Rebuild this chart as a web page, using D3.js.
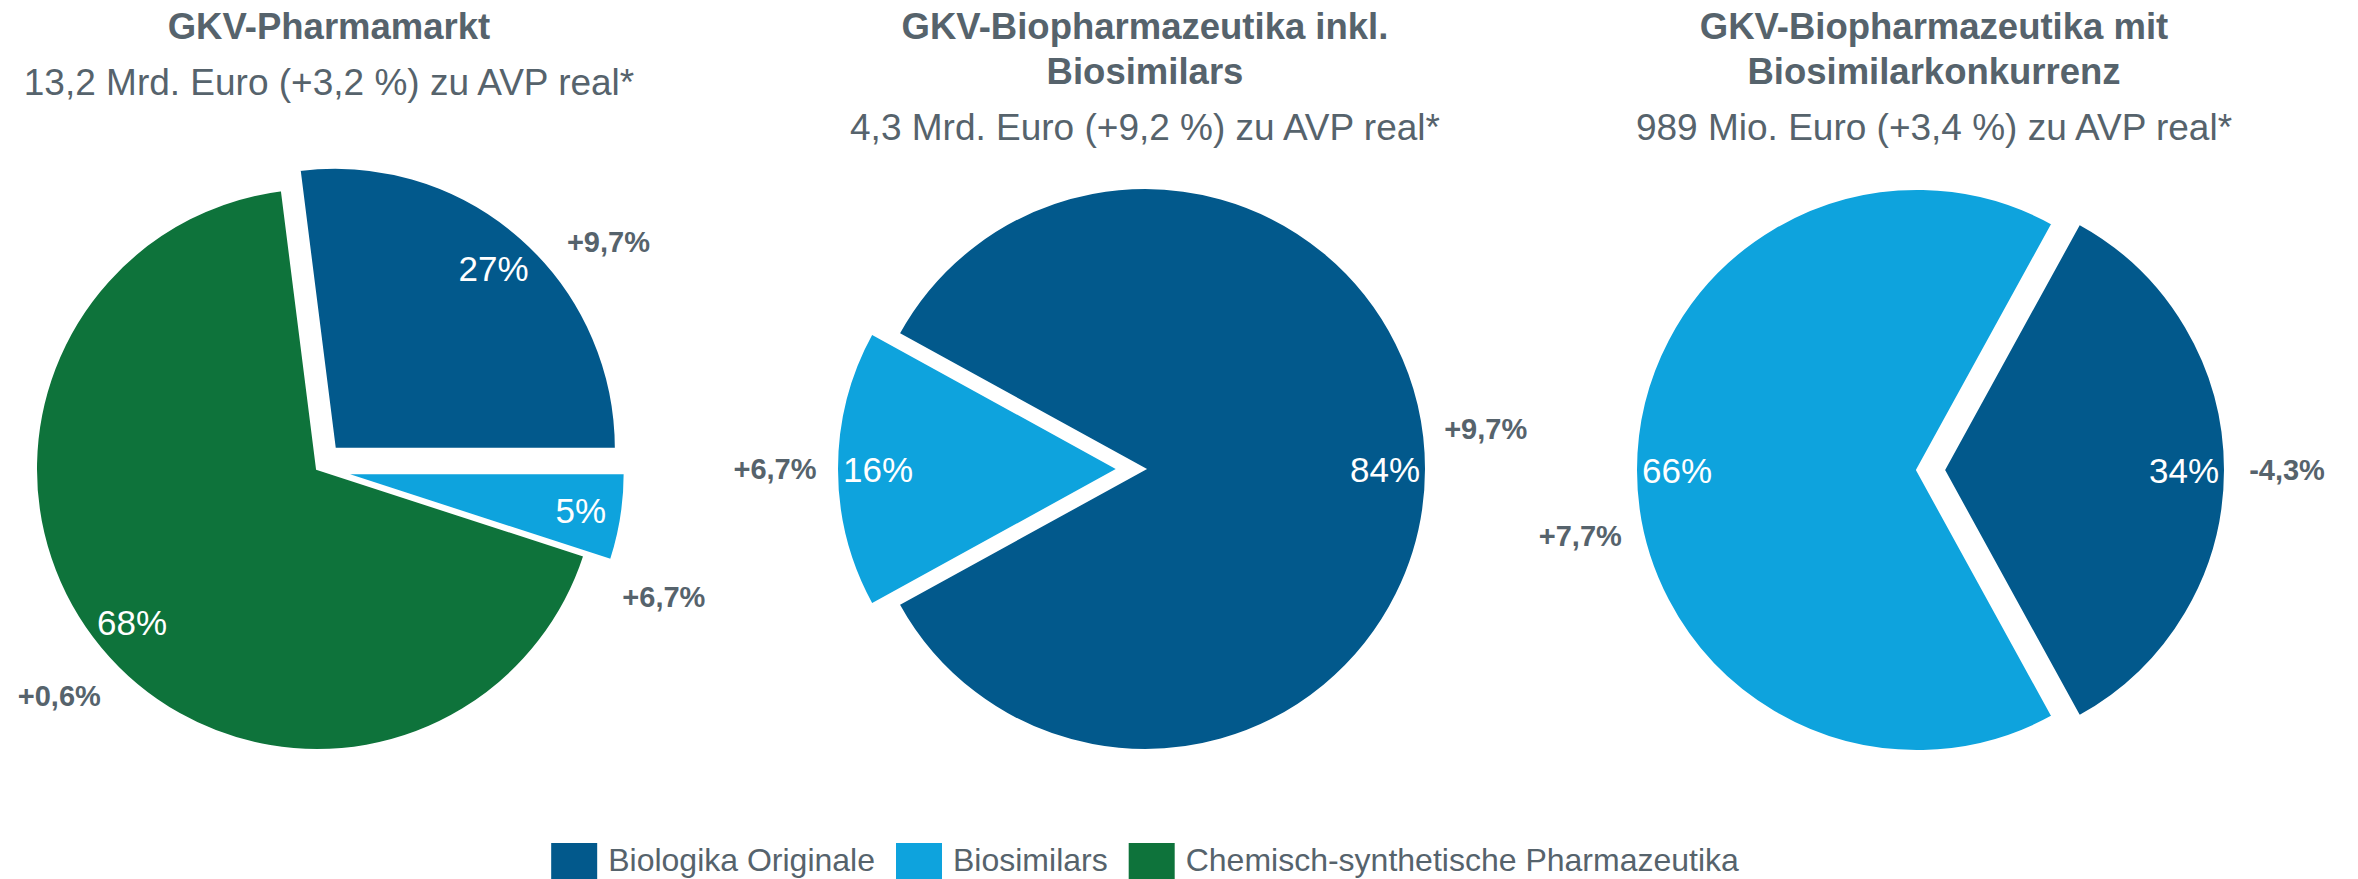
<!DOCTYPE html>
<html>
<head>
<meta charset="utf-8">
<script src="https://cdn.jsdelivr.net/npm/d3@7"></script>
<style>
  html, body { margin: 0; padding: 0; background: #fff; }
  svg { display: block; font-family: "Liberation Sans", Arial, sans-serif; }
</style>
</head>
<body>
<div class="canvas"></div>
<script>
// categories and colours
const categories = ['Biologika Originale', 'Biosimilars', 'Chemisch-synthetische Pharmazeutika'];
const colors = ['#02598c', '#0ea3dd', '#0e733b'];

// chart 1: GKV-Pharmamarkt
const pharmaCats = [0, 1, 2];
const pharmaShares = [27, 5, 68];
const pharmaGrowth = ['+9,7%', '+6,7%', '+0,6%'];

// chart 2: Biopharmazeutika inkl. Biosimilars
const bioInklCats = [0, 1];
const bioInklShares = [84, 16];
const bioInklGrowth = ['+9,7%', '+6,7%'];

// chart 3: Biopharmazeutika mit Biosimilarkonkurrenz
const bioMitCats = [0, 1];
const bioMitShares = [34, 66];
const bioMitGrowth = ['-4,3%', '+7,7%'];

const titles = [
    ['GKV-Pharmamarkt'],
    ['GKV-Biopharmazeutika inkl.', 'Biosimilars'],
    ['GKV-Biopharmazeutika mit', 'Biosimilarkonkurrenz']
];
const subtitles = [
    '13,2 Mrd. Euro (+3,2 %) zu AVP real*',
    '4,3 Mrd. Euro (+9,2 %) zu AVP real*',
    '989 Mio. Euro (+3,4 %) zu AVP real*'
];

const dims = { width: 2358, height: 879, radius: 281 };
const textColor = '#56636c';

// layout per chart
const charts = [
    { cats: pharmaCats, shares: pharmaShares, growth: pharmaGrowth, cx: 317, cy: 469, textX: 329,
      start: -7.2, explode: [true, true, false], nudge: [11.5, 12, -1.7] },
    { cats: bioInklCats, shares: bioInklShares, growth: bioInklGrowth, cx: 1145, cy: 469, textX: 1145,
      start: -61.2, explode: [false, true], nudge: [-6.7, 0] },
    { cats: bioMitCats, shares: bioMitShares, growth: bioMitGrowth, cx: 1917, cy: 470, textX: 1934,
      start: 28.8, explode: [true, false], nudge: [0, -11] }
];

const explodeDist = 27;
const labelRadius = 240;
const growthRadius = 343;

const svg = d3.select('.canvas')
    .append('svg')
    .attr('width', dims.width)
    .attr('height', dims.height);

const arcPath = d3.arc()
    .innerRadius(0)
    .outerRadius(dims.radius);

const rad = d => d * Math.PI / 180;

charts.forEach((c, ci) => {
    const g = svg.append('g');

    // titles
    const tLines = titles[ci];
    tLines.forEach((line, li) => {
        g.append('text')
            .attr('x', c.textX)
            .attr('y', 39 + li * 45)
            .attr('text-anchor', 'middle')
            .attr('font-size', 36.5)
            .attr('font-weight', 'bold')
            .attr('fill', textColor)
            .text(line);
    });
    g.append('text')
        .attr('x', c.textX)
        .attr('y', 39 + (tLines.length - 1) * 45 + 56)
        .attr('text-anchor', 'middle')
        .attr('font-size', 37)
        .attr('fill', textColor)
        .text(subtitles[ci]);

    const pie = d3.pie()
        .sort(null)
        .startAngle(rad(c.start))
        .endAngle(rad(c.start) + 2 * Math.PI)
        .value(d => d.share);

    const data = c.shares.map((s, i) => ({ share: s, cat: c.cats[i], growth: c.growth[i], i }));
    const arcs = pie(data);

    const offset = d => {
        const mid = (d.startAngle + d.endAngle) / 2;
        const k = c.explode[d.data.i] ? explodeDist : 0;
        return [Math.sin(mid) * k, -Math.cos(mid) * k];
    };

    const graph = g.append('g')
        .attr('transform', `translate(${c.cx}, ${c.cy})`);

    const slice = graph.selectAll('g.slice')
        .data(arcs)
        .enter()
        .append('g')
            .attr('class', 'slice')
            .attr('transform', d => `translate(${offset(d)})`);

    slice.append('path')
        .attr('d', arcPath)
        .attr('fill', d => colors[d.data.cat])
        .attr('stroke', '#fff')
        .attr('stroke-width', 2);

    // share labels inside
    slice.append('text')
        .attr('transform', d => {
            const mid = (d.startAngle + d.endAngle) / 2;
            return `translate(${Math.sin(mid) * labelRadius}, ${-Math.cos(mid) * labelRadius})`;
        })
        .attr('text-anchor', 'middle')
        .attr('dy', '0.36em')
        .attr('font-size', 35)
        .attr('fill', '#fff')
        .text(d => d.data.share + '%');

    // growth labels outside
    slice.append('text')
        .attr('transform', d => {
            const mid = (d.startAngle + d.endAngle) / 2 + rad(c.nudge[d.data.i]);
            return `translate(${Math.sin(mid) * growthRadius}, ${-Math.cos(mid) * growthRadius})`;
        })
        .attr('text-anchor', 'middle')
        .attr('dy', '0.36em')
        .attr('font-size', 29)
        .attr('font-weight', 'bold')
        .attr('fill', textColor)
        .text(d => d.data.growth);
});

// legend
const legend = svg.append('g').attr('class', 'legendGroup');
const items = legend.selectAll('g')
    .data(categories)
    .enter()
    .append('g');

items.append('rect')
    .attr('width', 46)
    .attr('height', 40)
    .attr('fill', (d, i) => colors[i]);

items.append('text')
    .attr('x', 57)
    .attr('y', 28)
    .attr('font-size', 32)
    .attr('fill', textColor)
    .text(d => d);

let xPos = 0;
items.each(function() {
    const w = 57 + d3.select(this).select('text').node().getComputedTextLength();
    d3.select(this).attr('transform', `translate(${xPos}, 843)`);
    xPos += w + 21;
});
const legendWidth = xPos - 21;
legend.attr('transform', `translate(${1145 - legendWidth / 2}, 0)`);
</script>
</body>
</html>
